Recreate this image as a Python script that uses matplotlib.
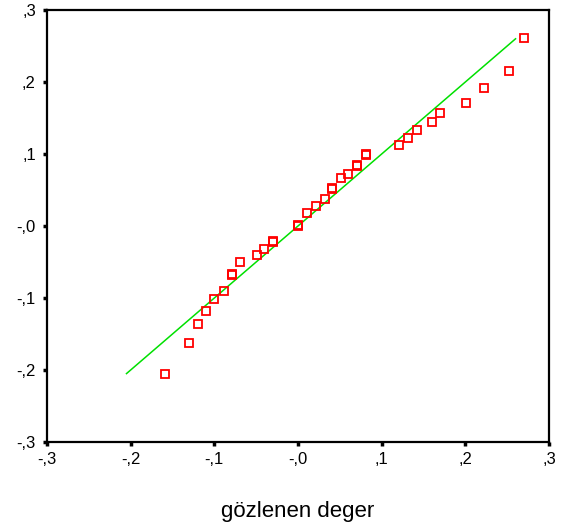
## Q-Q style plot: observed vs expected

import matplotlib
matplotlib.use('Agg')
import matplotlib.pyplot as plt

plt.rcParams['font.family'] = ['Liberation Sans', 'DejaVu Sans']

# observed values (x) and expected normal values (y)
observed = [-0.159, -0.130, -0.120, -0.110, -0.100, -0.089, -0.079, -0.079, -0.069,
            -0.049, -0.041, -0.030, -0.030, 0.000, 0.000, 0.011, 0.021, 0.032,
            0.041, 0.041, 0.051, 0.060, 0.070, 0.070, 0.081, 0.081, 0.121, 0.132,
            0.142, 0.160, 0.170, 0.201, 0.222, 0.252, 0.270]
expected = [-0.206, -0.162, -0.136, -0.118, -0.102, -0.090, -0.068, -0.067, -0.050,
            -0.040, -0.032, -0.022, -0.021, 0.000, 0.001, 0.018, 0.028, 0.038,
            0.052, 0.053, 0.066, 0.072, 0.084, 0.085, 0.099, 0.100, 0.113, 0.122,
            0.133, 0.144, 0.157, 0.171, 0.191, 0.215, 0.261]

# reference line ends
line_x = [-0.205, 0.260]
line_y = [-0.205, 0.260]

ticks = [-0.3, -0.2, -0.1, 0.0, 0.1, 0.2, 0.3]
tick_labels = ['-,3', '-,2', '-,1', '-,0', ',1', ',2', ',3']
y_tick_labels = ['-,3', '-,2', '-,1', '-,0', ',1', ',2', ',3']

fig = plt.figure(figsize=(5.65, 5.23), dpi=100)
ax = fig.add_axes([0.0832, 0.1549, 0.8885, 0.826])

ax.plot(line_x, line_y, color='#00e000', lw=1.1, zorder=2)
ax.plot(observed, expected, 's', mfc='none', mec='#ff0000', ms=5.5, mew=1.3, zorder=3)

ax.set_xlim(-0.3, 0.3)
ax.set_ylim(-0.3, 0.3)
ax.set_xticks(ticks)
ax.set_xticklabels(tick_labels)
ax.set_yticks(ticks)
ax.set_yticklabels(y_tick_labels)

for s in ax.spines.values():
    s.set_linewidth(1.6)
    s.set_color('black')
ax.tick_params(direction='out', length=3, width=2.5, labelsize=12)
ax.tick_params(axis='x', pad=4)
ax.tick_params(axis='y', pad=5)

ax.set_xlabel('gözlenen deger', fontsize=16, labelpad=25)

plt.savefig('out.png', dpi=100)
